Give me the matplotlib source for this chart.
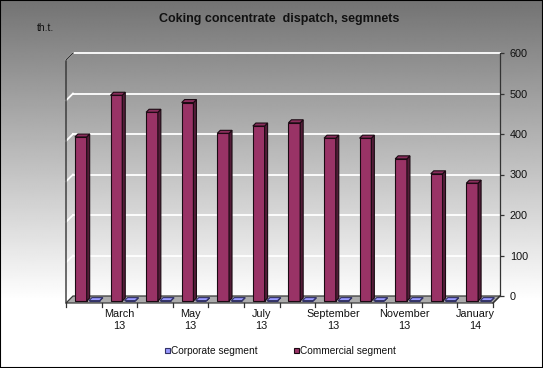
import matplotlib
matplotlib.use('Agg')
import matplotlib.pyplot as plt
from matplotlib.patches import Polygon, Rectangle
import numpy as np

plt.rcParams['font.family'] = ['Liberation Sans', 'DejaVu Sans']

# data (thousand tonnes)
months = ['February', 'March', 'April', 'May', 'June', 'July', 'August',
          'September', 'October', 'November', 'December', 'January']
years = ['13', '13', '13', '13', '13', '13', '13', '13', '13', '13', '13', '14']
commercial = [405, 508, 466, 490, 414, 432, 440, 402, 402, 351, 314, 291]
corporate = [1, 1, 1, 1, 1, 1, 1, 1, 1, 1, 1, 1]
y_ticks = [0, 100, 200, 300, 400, 500, 600]

W, H = 543, 368
# back wall of the fake 3d box, in pixels
left, right, top, bottom = 73, 500, 53, 296
depth = 7

fig = plt.figure(figsize=(W / 100, H / 100), dpi=100)

# background gradient, dark gray at the top to white near the floor
bg = fig.add_axes([0, 0, 1, 1], zorder=-1)
rows = np.arange(H)
shade = np.clip(0.45 + 0.55 * rows / 300, 0, 1)
bg.imshow(np.tile(shade[:, None], (1, 4)), cmap='gray', vmin=0, vmax=1,
          aspect='auto', extent=[0, 1, 0, 1], interpolation='bilinear')
bg.axis('off')

ax = fig.add_axes([left / W, 1 - bottom / H, (right - left) / W, (bottom - top) / H])
ax.set_facecolor('none')
n = len(months)
ax.set_xlim(-0.5, n - 0.5)
ax.set_ylim(0, 600)

pxx = (right - left) / n          # pixels per category
uy = 600 / (bottom - top)         # value units per pixel


def shift(d):
    # move toward the viewer by d pixels (left and down)
    return -d / pxx, -d * uy


xlo, xhi = -0.5, n - 0.5
fx, fy = shift(depth)

# floor
ax.add_patch(Polygon([(xlo, 0), (xhi, 0), (xhi + fx, fy), (xlo + fx, fy)],
                     closed=True, fc='#acacac', ec='#3a3a3a', lw=0.9,
                     clip_on=False, zorder=1))

# gridlines on back wall and left wall
for t in y_ticks[1:]:
    ax.plot([xlo, xhi], [t, t], color='white', lw=1.3, zorder=0.5, clip_on=False)
    ax.plot([xlo + fx, xlo], [t + fy, t], color='white', lw=1.3, zorder=0.5, clip_on=False)

# left wall outline
ax.plot([xlo + fx, xlo + fx, xlo], [fy, 600 + fy, 600], color='#333333', lw=1.0,
        clip_on=False, zorder=2)

# category ticks along the front edge of the floor
for k in range(n + 1):
    ax.plot([k - 0.5 + fx, k - 0.5 + fx], [fy, fy - 4 * uy], color='#333333', lw=0.9,
            clip_on=False, zorder=2)
# floor right edge continues into the axis
ax.plot([xhi + fx, xhi], [fy, 0], color='#333333', lw=0.9, clip_on=False, zorder=2)


def bars3d(centers, values, width, face, side, topc, edge):
    d_front, d_back = 5, 2
    sfx, sfy = shift(d_front)
    sbx, sby = shift(d_back)
    x0f = [c - width / 2 + sfx for c in centers]
    ax.bar(x0f, values, width, bottom=sfy, align='edge', color=face,
           edgecolor=edge, lw=0.8, clip_on=False, zorder=3)
    for x0, v in zip(x0f, values):
        x0b = x0 - sfx + sbx
        side_pts = [(x0 + width, sfy), (x0 + width, sfy + v),
                    (x0b + width, sby + v), (x0b + width, sby)]
        top_pts = [(x0, sfy + v), (x0 + width, sfy + v),
                   (x0b + width, sby + v), (x0b, sby + v)]
        ax.add_patch(Polygon(side_pts, closed=True, fc=side, ec=edge, lw=0.8,
                             clip_on=False, zorder=3))
        ax.add_patch(Polygon(top_pts, closed=True, fc=topc, ec=edge, lw=0.8,
                             clip_on=False, zorder=3))


x = np.arange(n)
bars3d(x - 0.14, commercial, 0.33, '#993366', '#531c38', '#8a2d5c', '#1a0a12')
bars3d(x + 0.24, corporate, 0.30, '#9999ff', '#6666aa', '#9999ff', '#333366')

# month labels, every second one
for i in range(1, n, 2):
    ax.text(i + fx, (bottom - 309) * uy, f"{months[i]}\n{years[i]}", ha='center',
            va='top', fontsize=7.8, linespacing=1.3, color='#111111')

# right value axis
ax.set_xticks([])
ax.yaxis.tick_right()
ax.set_yticks(y_ticks)
ax.tick_params(axis='y', length=3, width=0.9, color='#333333', labelsize=7.8,
               pad=4, labelcolor='#111111')
for s in ['left', 'top', 'bottom']:
    ax.spines[s].set_visible(False)
ax.spines['right'].set_color('#333333')
ax.spines['right'].set_linewidth(0.9)

fig.text(0.514, 1 - 19 / H, 'Coking concentrate  dispatch, segmnets',
         ha='center', va='center', fontsize=9, fontweight='bold', color='#111111')
fig.text(46 / W, 1 - 28 / H, 'th.t.', ha='center', va='center', fontsize=7.5,
         color='#111111')

handles = [Rectangle((0, 0), 1, 1, fc='#9999ff', ec='#333366', lw=0.8),
           Rectangle((0, 0), 1, 1, fc='#993366', ec='#1a0a12', lw=0.8)]
fig.legend(handles, ['Corporate segment', 'Commercial segment'], loc='center',
           bbox_to_anchor=(0.516, 1 - 351 / H), ncol=2, frameon=False,
           fontsize=7.3, handlelength=0.5, handleheight=0.5, handletextpad=0.1,
           columnspacing=3.6, labelcolor='#111111')

fig.add_artist(Rectangle((0, 0), 1, 1, transform=fig.transFigure, fill=False,
                         ec='black', lw=1.5))

fig.savefig('out.png', dpi=100)
